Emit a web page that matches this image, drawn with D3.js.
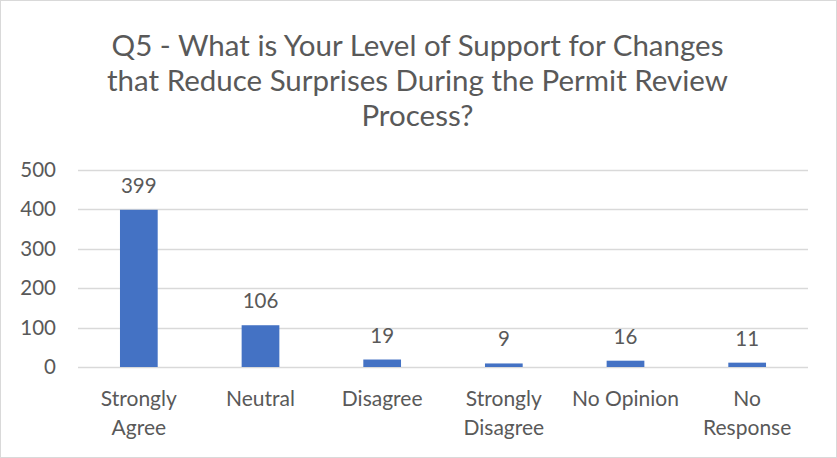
<!DOCTYPE html>
<html>
<head>
<meta charset="utf-8">
<script src="https://cdn.jsdelivr.net/npm/d3@7"></script>
<style>
  body { margin: 0; background: #fff; }
  svg { font-family: Lato, "Open Sans", sans-serif; }
</style>
</head>
<body>
<svg width="837" height="458"></svg>
<script>
var categories = [["Strongly", "Agree"], ["Neutral"], ["Disagree"], ["Strongly", "Disagree"], ["No Opinion"], ["No", "Response"]];
var values = [399, 106, 19, 9, 16, 11];
var yTicks = [0, 100, 200, 300, 400, 500];
var titleLines = ["Q5 - What is Your Level of Support for Changes",
                  "that Reduce Surprises During the Permit Review",
                  "Process?"];

var svg = d3.select("svg");
var width = +svg.attr("width");
var height = +svg.attr("height");
var textColor = "#595959";

// chart border
svg.append("rect")
    .attr("x", 0.5).attr("y", 0.5)
    .attr("width", width - 1).attr("height", height - 1)
    .attr("fill", "#fff")
    .attr("stroke", "#d9d9d9");

var plot = { left: 78, right: 808, top: 170, bottom: 367 };

var x = d3.scaleBand()
    .domain(d3.range(values.length))
    .range([plot.left, plot.right])
    .paddingInner(0.69)
    .paddingOuter(0.345);

var y = d3.scaleLinear()
    .domain([0, 500])
    .range([plot.bottom, plot.top]);

// title
svg.append("text")
    .attr("text-anchor", "middle")
    .attr("fill", textColor)
    .style("font-size", "29.5px")
    .selectAll("tspan")
    .data(titleLines)
    .enter().append("tspan")
    .attr("x", width / 2 - 1)
    .attr("y", function (d, i) { return 56 + i * 35; })
    .text(function (d) { return d; });

// gridlines
svg.append("g")
    .selectAll("line")
    .data(yTicks)
    .enter().append("line")
    .attr("x1", plot.left).attr("x2", plot.right)
    .attr("y1", function (d) { return Math.round(y(d)) + 0.5; })
    .attr("y2", function (d) { return Math.round(y(d)) + 0.5; })
    .attr("stroke", "#d9d9d9")
    .attr("stroke-width", 1.3);

// y axis labels
var yAxis = d3.axisLeft(y).tickValues(yTicks).tickSize(0).tickPadding(0);
svg.append("g")
    .attr("transform", "translate(56,0)")
    .call(yAxis)
    .call(function (g) { g.select(".domain").remove(); })
    .selectAll("text")
    .attr("fill", textColor)
    .style("font-family", "Lato, sans-serif")
    .style("font-size", "20.5px");

// bars
svg.append("g")
    .selectAll("rect")
    .data(values)
    .enter().append("rect")
    .attr("x", function (d, i) { return x(i); })
    .attr("y", function (d) { return y(d); })
    .attr("width", x.bandwidth())
    .attr("height", function (d) { return y(0) - y(d); })
    .attr("fill", "#4472c4");

// value labels
svg.append("g")
    .selectAll("text")
    .data(values)
    .enter().append("text")
    .attr("x", function (d, i) { return x(i) + x.bandwidth() / 2; })
    .attr("y", function (d) { return y(d) - 17; })
    .attr("text-anchor", "middle")
    .attr("fill", textColor)
    .style("font-size", "20.5px")
    .text(function (d) { return d; });

// category labels
var cat = svg.append("g")
    .selectAll("text")
    .data(categories)
    .enter().append("text")
    .attr("text-anchor", "middle")
    .attr("fill", textColor)
    .style("font-size", "21px");

cat.selectAll("tspan")
    .data(function (d, i) { return d.map(function (s) { return { s: s, i: i }; }); })
    .enter().append("tspan")
    .attr("x", function (d) { return x(d.i) + x.bandwidth() / 2; })
    .attr("y", function (d, j) { return 406 + j * 29; })
    .text(function (d) { return d.s; });
</script>
</body>
</html>
